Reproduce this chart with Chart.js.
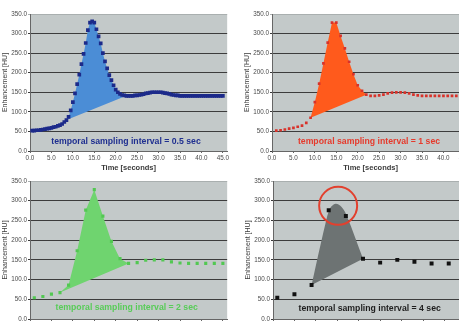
<html>
<head>
  <title>temporal sampling</title>
  <style>
    body { margin: 0; width: 459px; height: 321px; overflow: hidden; background: #fff; position: relative; }
    canvas { position: absolute; }
    #c05 { left: 0px; top: 0px; }
    #c1 { left: 242px; top: 0px; }
    #c2 { left: 0px; top: 174px; }
    #c4 { left: 243px; top: 174px; }
  </style>
  <script src="https://cdn.jsdelivr.net/npm/chart.js"></script>
</head>
<body>
  <canvas id="c05" width="230" height="172"></canvas>
  <canvas id="c1" width="230" height="172"></canvas>
  <canvas id="c2" width="230" height="166"></canvas>
  <canvas id="c4" width="230" height="166"></canvas>

<script>
// tick labels
let xTicks = [0, 5, 10, 15, 20, 25, 30, 35, 40, 45];
let yTicks = [0, 50, 100, 150, 200, 250, 300, 350];

// 0.5 sec sampling
let t05 = [0.5,1,1.5,2,2.5,3,3.5,4,4.5,5,5.5,6,6.5,7,7.5,8,8.5,9,9.5,10,
  10.5,11,11.5,12,12.5,13,13.5,14,14.5,15,15.5,16,16.5,17,17.5,18,18.5,19,19.5,20,
  20.5,21,21.5,22,22.5,23,23.5,24,24.5,25,25.5,26,26.5,27,27.5,28,28.5,29,29.5,30,
  30.5,31,31.5,32,32.5,33,33.5,34,34.5,35,35.5,36,36.5,37,37.5,38,38.5,39,39.5,40,
  40.5,41,41.5,42,42.5,43,43.5,44,44.5,45];
let v05 = [52,52,53,53,54,55,56,57,58,59,61,62,64,66,69,74,79,87,104,125,
  147,171,195,222,248,276,309,328,331,328,311,293,275,250,229,211,194,181,168,157,
  150,146,143,142,141,141,141,141,142,142,143,144,145,147,148,149,150,150,150,150,
  150,149,148,147,146,144,143,142,142,141,141,141,141,141,141,141,141,141,141,141,
  141,141,141,141,141,141,141,141,141,141];

// 1 sec sampling
let t1 = [1,2,3,4,5,6,7,8,9,10,11,12,13,14,15,16,17,18,19,20,21,22,23,24,25,26,27,28,29,30,
  31,32,33,34,35,36,37,38,39,40,41,42,43,44,45];
let v1 = [52,53,55,57,59,62,65,72,85,125,172,224,277,328,328,294,262,228,196,168,
  154,144,141,141,142,144,147,149,150,150,149,147,144,142,141,141,141,141,141,141,
  141,141,141,141,141];

// 2 sec sampling
let t2 = [1,3,5,7,9,11,13,15,17,19,21,23,25,27,29,31,33,35,37,39,41,43,45];
let v2 = [54,57,63,67,86,173,276,328,261,197,153,141,143,149,150,150,145,142,141,141,141,141,141];

// 4 sec sampling
let t4 = [1,5,9,13,17,21,25,29,33,37,41];
let v4 = [54,63,86,276,261,153,143,150,145,141,141];

// shaded areas (first/last time of the shaded bolus)
let shade05 = [8.5, 22.5];
let shade1 = [9, 22];
let shade2 = [7, 23];
let shade4X = [9, 12.2, 13.3, 14.6, 16, 17.2, 21];
let shade4Y = [86, 240, 280, 292, 284, 262, 153];
let circle4 = [15.2, 287];

Chart.defaults.font.family = '"Liberation Sans", Arial, sans-serif';

function pts(xs, ys) {
  return xs.map((x, i) => ({ x: x, y: ys[i] }));
}

// upper edge = the samples inside the range, lower edge = straight line between its ends
function shadeSets(xs, ys, range, color) {
  let upper = pts(xs, ys).filter(p => p.x >= range[0] && p.x <= range[1]);
  let lower = [upper[0], upper[upper.length - 1]];
  return [
    { data: upper, borderColor: 'rgba(0,0,0,0)', borderWidth: 0, pointRadius: 0, fill: '+1', backgroundColor: color },
    { data: lower, borderColor: 'rgba(0,0,0,0)', borderWidth: 0, pointRadius: 0, fill: false }
  ];
}

function samples(xs, ys, color, r) {
  return { data: pts(xs, ys), showLine: false, pointStyle: 'rect', pointRadius: r,
    pointBackgroundColor: color, pointBorderWidth: 0, borderColor: color };
}

const plotBg = {
  id: 'plotBg',
  beforeDraw(chart) {
    const { ctx, chartArea: a } = chart;
    ctx.save();
    ctx.fillStyle = '#c3c9c9';
    ctx.fillRect(a.left, a.top, a.right - a.left, a.bottom - a.top);
    ctx.restore();
  }
};

const caption = {
  id: 'caption',
  afterDatasetsDraw(chart, args, opts) {
    const { ctx, chartArea: a } = chart;
    ctx.save();
    ctx.font = 'bold 8.7px "Liberation Sans", Arial, sans-serif';
    ctx.fillStyle = opts.color;
    ctx.textAlign = 'center';
    ctx.textBaseline = 'middle';
    ctx.fillText(opts.text, a.left + opts.dx, a.bottom - opts.dy);
    ctx.restore();
  }
};

function makeChart(id, padTop, datasets, cap) {
  return new Chart(document.getElementById(id), {
    type: 'line',
    data: { datasets: datasets },
    options: {
      responsive: false,
      animation: false,
      layout: { autoPadding: false, padding: { top: padTop, left: 0, right: 0, bottom: 0 } },
      plugins: { legend: { display: false }, tooltip: { enabled: false }, caption: cap },
      scales: {
        x: {
          type: 'linear', min: 0, max: 46,
          afterFit: s => { s.height = 21; },
          afterBuildTicks: s => { s.ticks = xTicks.map(v => ({ value: v })); },
          ticks: { callback: v => v.toFixed(1), font: { size: 6.3 }, color: '#4a4a4a', padding: 1, maxRotation: 0 },
          grid: { drawOnChartArea: false, tickLength: 2, color: '#666' },
          border: { color: '#666' },
          title: { display: true, text: 'Time [seconds]', font: { size: 7.5, weight: 'bold' }, color: '#3a3a3a', padding: 0 }
        },
        y: {
          min: 0, max: 350,
          afterFit: s => { s.width = 30; },
          afterBuildTicks: s => { s.ticks = yTicks.map(v => ({ value: v })); },
          ticks: { callback: v => v.toFixed(1), font: { size: 6.3 }, color: '#4a4a4a', padding: 1 },
          grid: { tickLength: 2, color: c => c.tick && c.tick.value === 350 ? '#a9afaf' : '#3c3c3c' },
          border: { color: '#666' },
          title: { display: true, text: 'Enhancement [HU]', font: { size: 7 }, color: '#3a3a3a', padding: { top: 1, bottom: 0 } }
        }
      }
    },
    plugins: [plotBg, caption]
  });
}

makeChart('c05', 14,
  [samples(t05, v05, '#1c2a8a', 2.6)].concat(shadeSets(t05, v05, shade05, '#4b8dd6')),
  { text: 'temporal sampling interval = 0.5 sec', color: '#1f2f90', dx: 96, dy: 9.3 });

makeChart('c1', 14,
  [samples(t1, v1, '#d8322a', 1.9)].concat(shadeSets(t1, v1, shade1, '#ff5a1c')),
  { text: 'temporal sampling interval = 1 sec', color: '#e63a2c', dx: 97, dy: 9.3 });

makeChart('c2', 7,
  [samples(t2, v2, '#52c852', 2.2)].concat(shadeSets(t2, v2, shade2, '#6fd46f')),
  { text: 'temporal sampling interval = 2 sec', color: '#58cc58', dx: 96.7, dy: 11.3 });

let peak4 = pts(shade4X, shade4Y);
makeChart('c4', 7, [
  { data: [{ x: circle4[0], y: circle4[1] }], showLine: false, pointStyle: 'circle', pointRadius: 19,
    pointBackgroundColor: 'rgba(0,0,0,0)', pointBorderColor: '#e2402e', pointBorderWidth: 2 },
  samples(t4, v4, '#111111', 2.8),
  { data: peak4, borderColor: 'rgba(0,0,0,0)', borderWidth: 0, pointRadius: 0, tension: 0.35, fill: '+1', backgroundColor: '#6d7373' },
  { data: [peak4[0], peak4[peak4.length - 1]], borderColor: 'rgba(0,0,0,0)', borderWidth: 0, pointRadius: 0, fill: false }
], { text: 'temporal sampling interval = 4 sec', color: '#1e1e1e', dx: 96.7, dy: 10.3 });
</script>
</body>
</html>
